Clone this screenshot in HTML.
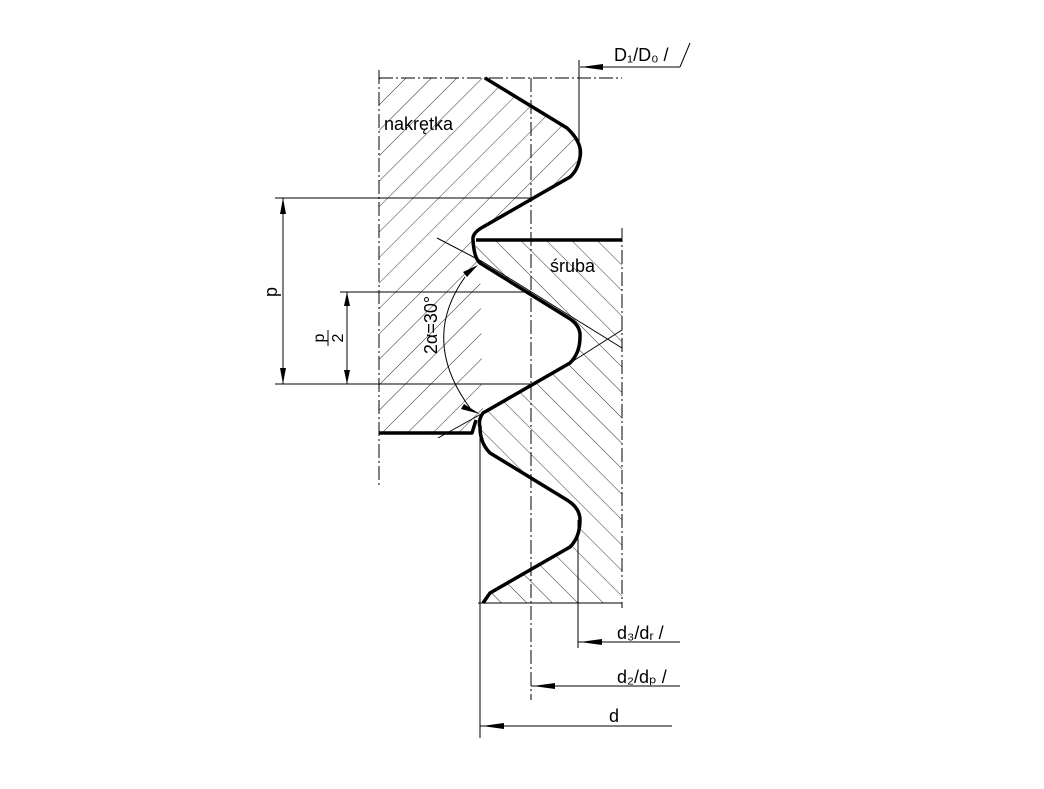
<!DOCTYPE html>
<html><head><meta charset="utf-8"><style>
html,body{margin:0;padding:0;background:#fff}
svg{display:block}
text{font-family:"Liberation Sans",sans-serif;fill:#000}
</style></head><body>
<svg width="1044" height="789" viewBox="0 0 1044 789" xmlns="http://www.w3.org/2000/svg">
<defs>
<pattern id="hn" patternUnits="userSpaceOnUse" width="18" height="18" patternTransform="rotate(45)">
<line x1="0" y1="0" x2="0" y2="18" stroke="#000" stroke-width="0.8"/></pattern>
<pattern id="hs" patternUnits="userSpaceOnUse" width="18" height="18" patternTransform="rotate(-45)">
<line x1="0" y1="0" x2="0" y2="18" stroke="#000" stroke-width="0.8"/></pattern>
</defs>
<path d="M379,78 L485,78 L567,128 Q583,143 580,157 Q578,170 570,177 L483,227 Q472,233 473,240 Q474,258 480,263 L483,413 L472,433 L379,433 Z" fill="url(#hn)"/>
<path d="M476,240 L622,240 L622,603 L483,603 L490,593 L570,547 Q580,535 580,520 Q578,505 567,500 L490,453 Q481,443 480,427 Q481,418 483,413 L570,363 Q580,350 580,337 Q578,322 567,317 L480,263 Q474,255 476,240 Z" fill="url(#hs)"/>
<g fill="none" stroke="#000" stroke-width="3.5" stroke-linejoin="round">
<path d="M485,78 L567,128 Q583,143 580,157 Q578,170 570,177 L483,227 Q472,233 473,240 Q474,258 480,263 L567,317 Q581,325 580,337 Q580,353 570,363 L483,413 Q478,420 480,427 Q480,443 490,453 L567,500 Q580,508 580,520 Q580,537 570,547 L490,593 L483,603"/>
<path d="M476,240 L622,240"/>
<path d="M379,433 L472,433 L476,420"/>
</g>
<g stroke="#000" stroke-width="1" stroke-dasharray="14,3,2,3" fill="none">
<line x1="379" y1="70" x2="379" y2="485"/>
<line x1="531" y1="78" x2="531" y2="700"/>
<line x1="622" y1="228" x2="622" y2="608"/>
<line x1="379" y1="78" x2="622" y2="78"/>
</g>
<g stroke="#000" stroke-width="1" fill="none">
<line x1="478" y1="603" x2="622" y2="603"/>
<line x1="275" y1="198" x2="531" y2="198"/>
<line x1="340" y1="292" x2="531" y2="292"/>
<line x1="275" y1="384" x2="531" y2="384"/>
<line x1="283" y1="198" x2="283" y2="384"/>
<line x1="347" y1="292" x2="347" y2="384"/>
<line x1="579" y1="60" x2="579" y2="157"/>
<line x1="580" y1="67" x2="680" y2="67"/>
<line x1="680" y1="67" x2="690" y2="43"/>
<line x1="578" y1="520" x2="578" y2="648"/>
<line x1="578" y1="642" x2="680" y2="642"/>
<line x1="480" y1="433" x2="480" y2="738"/>
<line x1="531" y1="686" x2="680" y2="686"/>
<line x1="480" y1="726" x2="672" y2="726"/>
<line x1="437" y1="238" x2="483" y2="262"/>
<line x1="483" y1="262" x2="622" y2="348"/>
<line x1="438" y1="438" x2="483" y2="413"/>
<line x1="570" y1="363" x2="622" y2="330"/>
<path d="M465,277 Q420,340 470,408"/>
</g>
<g fill="#000">
<polygon points="283,198 280,214 286,214"/>
<polygon points="283,384 280,368 286,368"/>
<polygon points="347,292 344,306 350,306"/>
<polygon points="347,384 344,370 350,370"/>
<polygon points="581,67 603,64 603,70"/>
<polygon points="580,642 602,639 602,645"/>
<polygon points="533,686 555,683 555,689"/>
<polygon points="482,726 504,723 504,729"/>
<polygon points="478,265 463,272 467,277"/>
<polygon points="480,414 464,404 461,409"/>
</g>
<text x="384" y="130" font-size="18">nakrętka</text>
<text x="550" y="272" font-size="18">śruba</text>
<text x="614" y="61" font-size="18">D₁/D₀ /</text>
<text x="617" y="639" font-size="18">d₃/dᵣ /</text>
<text x="617" y="683" font-size="18">d₂/dₚ /</text>
<text x="609" y="722" font-size="18">d</text>
<text transform="translate(277,292) rotate(-90)" font-size="18" text-anchor="middle">p</text>
<text transform="translate(324,338) rotate(-90)" font-size="16" text-anchor="middle">p</text>
<line x1="328" y1="330" x2="328" y2="346" stroke="#000" stroke-width="1"/>
<text transform="translate(343,338) rotate(-90)" font-size="16" text-anchor="middle">2</text>
<text transform="translate(437,325) rotate(-90)" font-size="18" text-anchor="middle">2α=30°</text>
</svg>
</body></html>
